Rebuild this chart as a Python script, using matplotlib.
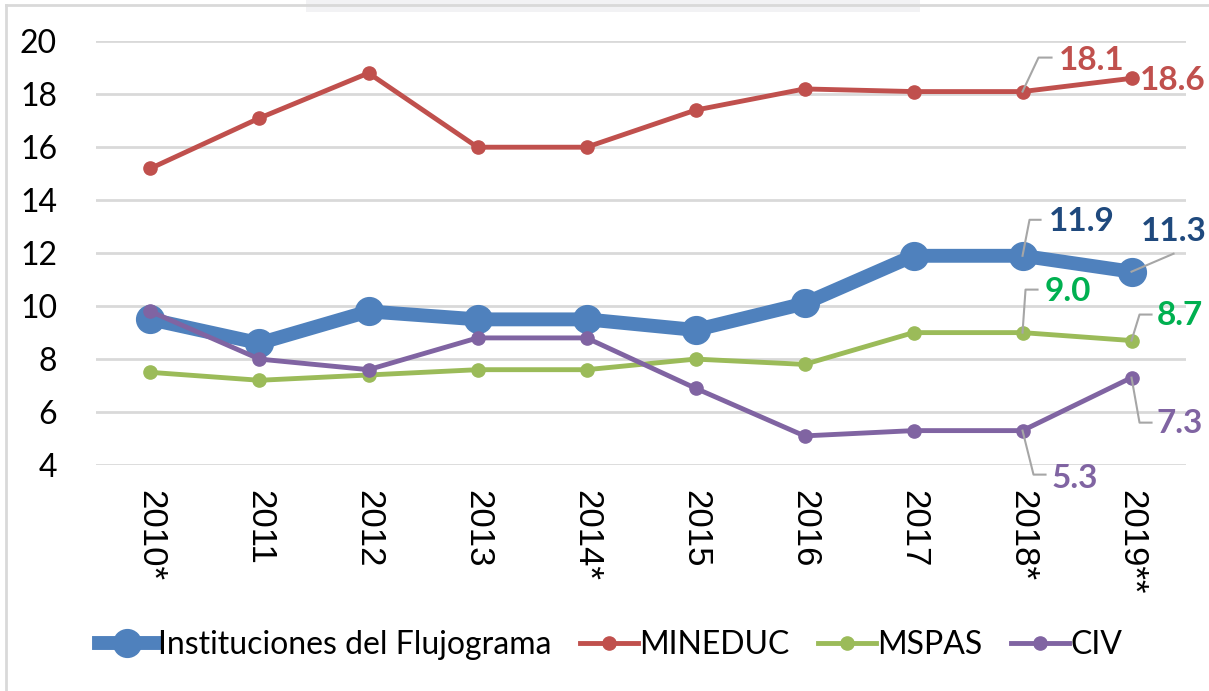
import matplotlib.pyplot as plt
from matplotlib.lines import Line2D
from matplotlib.patches import Rectangle

years = ["2010*", "2011", "2012", "2013", "2014*", "2015", "2016", "2017", "2018*", "2019**"]
instituciones = [9.5, 8.6, 9.8, 9.5, 9.5, 9.1, 10.1, 11.9, 11.9, 11.3]
mineduc = [15.2, 17.1, 18.8, 16.0, 16.0, 17.4, 18.2, 18.1, 18.1, 18.6]
mspas = [7.5, 7.2, 7.4, 7.6, 7.6, 8.0, 7.8, 9.0, 9.0, 8.7]
civ = [9.8, 8.0, 7.6, 8.8, 8.8, 6.9, 5.1, 5.3, 5.3, 7.3]

BLUE, RED, GREEN, PURPLE = "#4F81BD", "#C0504D", "#9BBB59", "#8064A2"

fig = plt.figure(figsize=(12.09, 6.91), dpi=100)
ax = fig.add_axes([0.0794, 0.327, 0.9016, 0.6133])
x = list(range(len(years)))

ax.plot(x, instituciones, color=BLUE, lw=10, marker="o", ms=20, zorder=4,
        label="Instituciones del Flujograma")
ax.plot(x, mineduc, color=RED, lw=3.5, marker="o", ms=9.5, zorder=3, label="MINEDUC")
ax.plot(x, mspas, color=GREEN, lw=3.5, marker="o", ms=9.5, zorder=3, label="MSPAS")
ax.plot(x, civ, color=PURPLE, lw=3.5, marker="o", ms=9.5, zorder=5, label="CIV")

ax.set_xlim(-0.5, 9.5)
ax.set_ylim(4, 20)
ax.set_yticks(range(4, 21, 2))
ax.set_xticks(x)
ax.set_xticklabels(years, rotation=-90, va="top", ha="center",
                   fontsize=25, family=["Liberation Sans", "DejaVu Sans"])
ax.tick_params(axis="x", length=0, pad=18)
ax.tick_params(axis="y", length=0, pad=28)
for t in ax.get_yticklabels():
    t.set_fontsize(23)
    t.set_family(["Lato", "DejaVu Sans"])
ax.grid(axis="y", color="#D9D9D9", lw=2)
ax.set_axisbelow(True)
for s in ax.spines.values():
    s.set_visible(False)

# data labels: (series, index, text, colour, leader vertices as pixel offsets, text offset)
labels = [
    (mineduc, 8, "18.1", RED, [(0, 0), (16, 34), (29, 34)], (36, 31)),
    (mineduc, 9, "18.6", RED, None, (8, -2)),
    (instituciones, 8, "11.9", "#1F497D", [(0, 0), (7, 36), (18, 36)], (26, 34)),
    (instituciones, 9, "11.3", "#1F497D", [(0, 0), (42, 18)], (9, 40)),
    (mspas, 8, "9.0", "#00B050", [(0, 0), (3, 43), (15, 43)], (22, 41)),
    (mspas, 9, "8.7", "#00B050", [(0, 0), (8, 26), (20, 26)], (25, 25)),
    (civ, 9, "7.3", PURPLE, [(0, 0), (8, -45), (20, -45)], (25, -46)),
    (civ, 8, "5.3", PURPLE, [(0, 0), (11, -44), (23, -44)], (29, -48)),
]
fig.canvas.draw()
for series, i, txt, col, leader, off in labels:
    px, py = ax.transData.transform((i, series[i]))
    if leader:
        xs = [px + dx for dx, dy in leader]
        ys = [py + dy for dx, dy in leader]
        fig.add_artist(Line2D(xs, ys, transform=None, color="#A6A6A6", lw=1.5, zorder=6))
    ax.annotate(txt, (i, series[i]), xytext=off, textcoords="offset pixels",
                ha="left", va="center", fontsize=24, fontweight="bold", color=col,
                family=["Lato", "DejaVu Sans"], annotation_clip=False, zorder=7)

leg = fig.legend(loc="center", bbox_to_anchor=(0.505, 0.066), ncol=4, frameon=False,
                 handlelength=1.8, handletextpad=0.05, columnspacing=0.9,
                 prop={"family": ["Lato", "DejaVu Sans"], "size": 23})

# outer frame like the source
fig.add_artist(Line2D([0.005, 0.005], [0, 0.993], transform=fig.transFigure, color="#D9D9D9", lw=2))
fig.add_artist(Line2D([0.005, 1], [0.993, 0.993], transform=fig.transFigure, color="#D9D9D9", lw=2))
fig.add_artist(Rectangle((0.253, 0.983), 0.508, 0.02, transform=fig.transFigure,
                         color="#F2F2F4", lw=0, zorder=0))

fig.savefig("out.png", dpi=100)
